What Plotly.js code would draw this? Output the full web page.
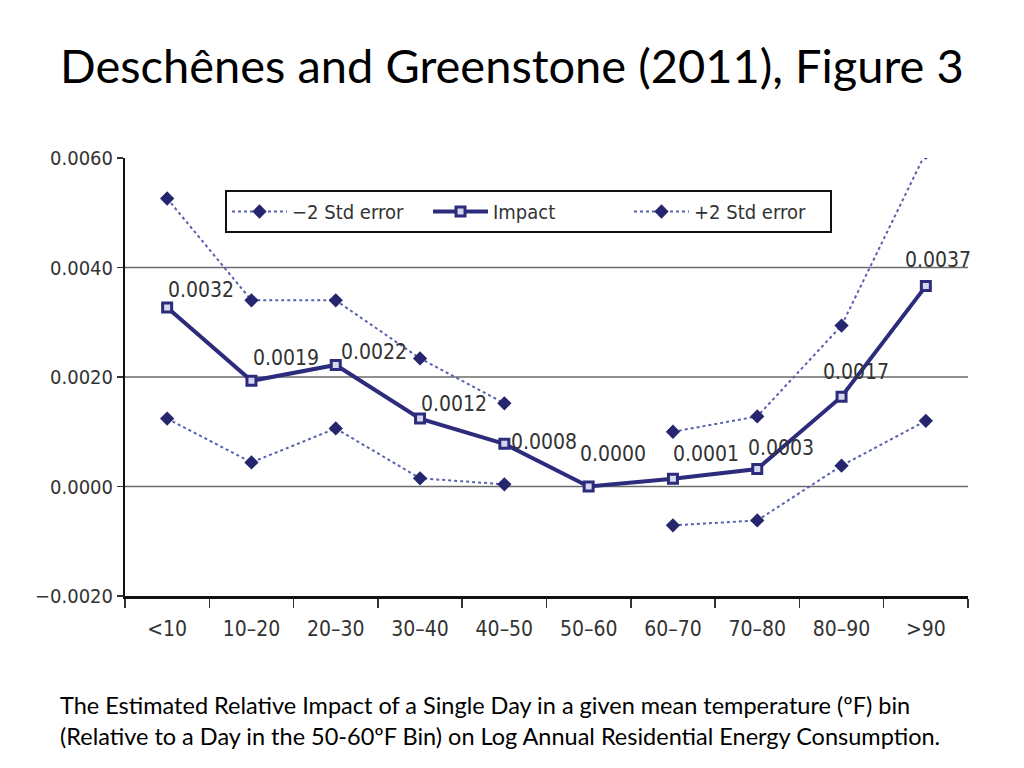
<!DOCTYPE html>
<html>
<head>
<meta charset="utf-8">
<script src="https://cdn.plot.ly/plotly-3.0.1.min.js"></script>
<style>html,body{margin:0;padding:0;background:#fff;}#chart{width:1024px;height:768px;}</style>
</head>
<body>
<div id="chart"></div>
<script>
const categories = ["<10", "10–20", "20–30", "30–40", "40–50", "50–60", "60–70", "70–80", "80–90", ">90"];
const impact = [0.00327, 0.00193, 0.00222, 0.00124, 0.00078, 0.0, 0.00014, 0.00032, 0.00164, 0.00366];
const plus2se = [0.00526, 0.00340, 0.00340, 0.00234, 0.00152, null, 0.00100, 0.00128, 0.00294, 0.00610];
const minus2se = [0.00124, 0.00044, 0.00106, 0.00015, 0.00004, null, -0.00071, -0.00062, 0.00038, 0.00120];
const impactLabels = ["0.0032", "0.0019", "0.0022", "0.0012", "0.0008", "0.0000", "0.0001", "0.0003", "0.0017", "0.0037"];
const yTicks = [-0.002, 0, 0.002, 0.004, 0.006];
const yTickText = ["−0.0020", "0.0000", "0.0020", "0.0040", "0.0060"];
const gridValues = [0, 0.002, 0.004];
const seriesNames = ["−2 Std error", "Impact", "+2 Std error"];
const titleText = "Deschênes and Greenstone (2011), Figure 3";
const captionText = "The Estimated Relative Impact of a Single Day in a given mean temperature (ºF) bin<br>(Relative to a Day in the 50-60ºF Bin) on Log Annual Residential Energy Consumption.";

// label offsets (pixels) for the value labels
const labelDx = [34, 35, 38, 34, 40, 24, 33, 24, 14, 12];
const labelDy = [-17, -23, -13, -15, -2, -33, -25, -21, -25, -26];

const narrow = "Liberation Sans Narrow, DejaVu Sans Condensed, Arial Narrow, sans-serif";
const navy = "#2c2b7c";
const dotCol = "#5961ad";
const plotW = 843, plotH = 438;

const traces = [
  {
    x: categories, y: minus2se, name: seriesNames[0], type: "scatter", mode: "lines+markers",
    connectgaps: false,
    line: {color: dotCol, width: 2, dash: "dot"},
    marker: {symbol: "diamond", size: 11, color: "#26266e"}
  },
  {
    x: categories, y: impact, name: seriesNames[1], type: "scatter", mode: "lines+markers",
    line: {color: navy, width: 4},
    marker: {symbol: "square", size: 9, color: "#d8d8ec", line: {color: navy, width: 3}}
  },
  {
    x: categories, y: plus2se, name: seriesNames[2], type: "scatter", mode: "lines+markers",
    connectgaps: false,
    line: {color: dotCol, width: 2, dash: "dot"},
    marker: {symbol: "diamond", size: 11, color: "#26266e"}
  }
];

const annotations = impactLabels.map((t, i) => ({
  x: categories[i], y: impact[i], xref: "x", yref: "y",
  text: t, showarrow: true, arrowcolor: "rgba(0,0,0,0)", ax: labelDx[i], ay: labelDy[i],
  font: {family: narrow, size: 21, color: "#333"}
}));

annotations.push({
  xref: "paper", yref: "paper", x: (58-125)/plotW, y: (596-720)/plotH,
  xanchor: "left", yanchor: "middle", align: "left", showarrow: false,
  text: captionText,
  font: {family: "Lato, Open Sans, sans-serif", size: 23.5, color: "#000"}
});

const shapes = gridValues.map(v => ({
  type: "line", xref: "paper", yref: "y", x0: 0, x1: 1, y0: v, y1: v,
  line: {color: "#6b6b6b", width: 1.5}, layer: "below"
}));

const layout = {
  width: 1024, height: 768,
  paper_bgcolor: "#fff", plot_bgcolor: "#fff",
  margin: {l: 125, r: 56, t: 158, b: 172},
  showlegend: true,
  title: {
    text: titleText, xref: "container", yref: "container",
    x: 60/1024, xanchor: "left", y: 1 - 67/768, yanchor: "middle",
    font: {family: "Lato, Open Sans, sans-serif", size: 47, color: "#000"}
  },
  xaxis: {
    type: "category", range: [-0.5, 9.5],
    showline: true, linecolor: "#111", linewidth: 2.5,
    ticks: "outside", tickson: "boundaries", ticklen: 9, tickcolor: "#333", tickwidth: 1.5,
    showgrid: false, zeroline: false,
    tickfont: {family: narrow, size: 21, color: "#333"},
    ticklabelstandoff: 12
  },
  yaxis: {
    range: [-0.002, 0.006],
    tickvals: yTicks, ticktext: yTickText,
    showline: true, linecolor: "#111", linewidth: 2,
    ticks: "outside", ticklen: 6, tickcolor: "#333", tickwidth: 1.5,
    showgrid: false, zeroline: false,
    tickfont: {family: narrow, size: 20, color: "#333"}
  },
  legend: {
    orientation: "h", x: (225-125)/plotW, y: (596-190)/plotH, xanchor: "left", yanchor: "top",
    bordercolor: "#111", borderwidth: 2, bgcolor: "#fff",
    font: {family: narrow, size: 20, color: "#333"},
    entrywidth: 131, itemwidth: 55
  },
  annotations: annotations,
  shapes: shapes
};

Plotly.newPlot("chart", traces, layout, {displayModeBar: false, staticPlot: true});
</script>
</body>
</html>
